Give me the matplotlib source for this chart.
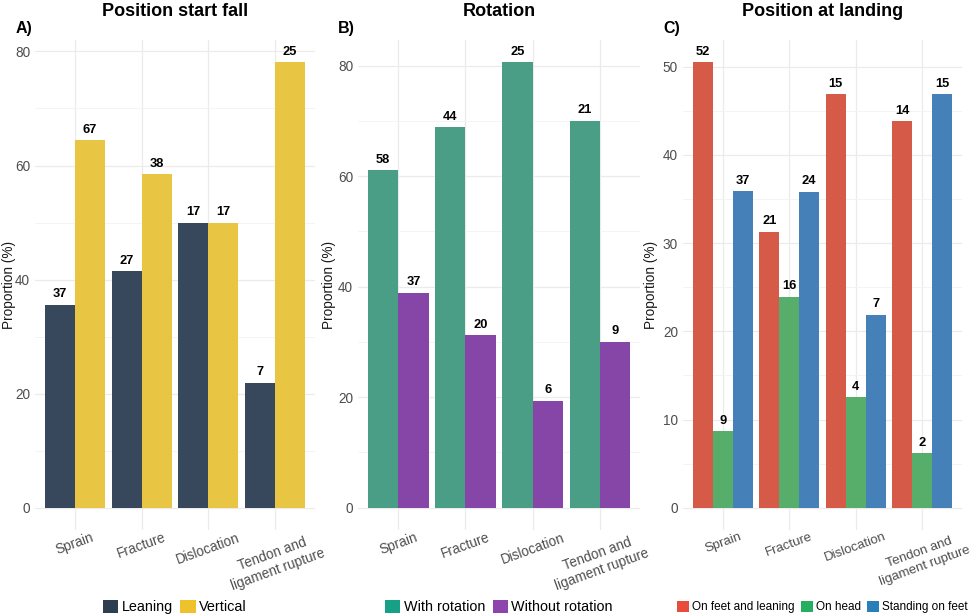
import numpy as np
import matplotlib
matplotlib.use("Agg")
import matplotlib.pyplot as plt
from matplotlib.patches import Patch

plt.rcParams['font.family'] = ['Liberation Sans', 'DejaVu Sans']

categories = ["Sprain", "Fracture", "Dislocation", "Tendon and\nligament rupture"]

# A) position at start of fall
leaning_pct = [35.6, 41.5, 50.0, 21.9]
vertical_pct = [64.4, 58.5, 50.0, 78.1]
leaning_n = [37, 27, 17, 7]
vertical_n = [67, 38, 17, 25]

# B) rotation
with_rot_pct = [61.1, 68.8, 80.6, 70.0]
without_rot_pct = [38.9, 31.2, 19.4, 30.0]
with_rot_n = [58, 44, 25, 21]
without_rot_n = [37, 20, 6, 9]

# C) position at landing
feet_lean_pct = [50.5, 31.3, 46.9, 43.8]
head_pct = [8.7, 23.9, 12.5, 6.2]
standing_pct = [35.9, 35.8, 21.9, 46.9]
feet_lean_n = [52, 21, 15, 14]
head_n = [9, 16, 4, 2]
standing_n = [37, 24, 7, 15]

W, H = 972, 615
fig = plt.figure(figsize=(W / 100, H / 100), dpi=100)


def px_axes(left, right, top=40, bottom=530):
    return fig.add_axes([left / W, 1 - bottom / H, (right - left) / W, (bottom - top) / H])


def panel(ax, series, counts, bar_cols, leg_cols, names, title, tag, major, leg_fs, ylab_x,
          xtick_fs=9.8):
    x = np.arange(1, len(categories) + 1)
    k = len(series)
    w = 0.9 / k
    ymax = max(max(s) for s in series)
    for i, (vals, ns) in enumerate(zip(series, counts)):
        xs = x - 0.45 + w * (i + 0.5)
        ax.bar(xs, vals, width=w, color=bar_cols[i], linewidth=0, zorder=2)
        for xi, v, n in zip(xs, vals, ns):
            ax.annotate(str(n), (xi, v), xytext=(0, 3.2), textcoords='offset points',
                        ha='center', va='bottom', fontsize=9.3, fontweight='bold',
                        color='black', annotation_clip=False)
    ax.set_xlim(0.4, len(categories) + 0.6)
    ax.set_ylim(-0.05 * ymax, 1.05 * ymax)
    ax.set_yticks(major)
    step = major[1] - major[0]
    ax.set_yticks(np.arange(step / 2, 1.05 * ymax, step), minor=True)
    ax.set_xticks(x)
    ax.set_xticklabels(categories, rotation=20, ha='center', multialignment='center',
                       fontsize=xtick_fs)
    ax.grid(True, which='major', color='#EBEBEB', linewidth=0.9, zorder=0)
    ax.grid(True, which='minor', axis='y', color='#F3F3F3', linewidth=0.6, zorder=0)
    ax.set_axisbelow(True)
    for s in ax.spines.values():
        s.set_visible(False)
    ax.tick_params(axis='both', which='both', length=0, labelcolor='#4D4D4D')
    ax.tick_params(axis='y', pad=3.6, labelsize=9.8)
    ax.tick_params(axis='x', pad=0.5)
    ax.set_ylabel("Proportion (%)", fontsize=9.8, color='#1A1A1A', va='center')
    pos = ax.get_position()
    ax.yaxis.set_label_coords((ylab_x / W - pos.x0) / pos.width, 0.5)
    fig.text((pos.x0 + pos.x1) / 2, 1 - 11 / H, title, ha='center', va='center',
             fontsize=13, fontweight='bold')
    handles = [Patch(facecolor=c, edgecolor='none') for c in leg_cols]
    ax.legend(handles, names, loc='center', bbox_to_anchor=(0.5, (530 - 607) / 490),
              ncol=k, frameon=False, fontsize=leg_fs, handlelength=1.05, handleheight=1.05,
              handletextpad=0.25, columnspacing=0.5, borderaxespad=0)
    fig.text(tag[0] / W, 1 - tag[1] / H, tag[2], ha='left', va='center',
             fontsize=11.5, fontweight='bold')


axA = px_axes(35, 315)
panel(axA, [leaning_pct, vertical_pct], [leaning_n, vertical_n],
      ['#37475C', '#E8C542'], ['#2C3E50', '#EEC22C'], ["Leaning", "Vertical"],
      "Position start fall", (16, 28, "A)"), [0, 20, 40, 60, 80], 10.4, 9)

axB = px_axes(358, 640)
panel(axB, [with_rot_pct, without_rot_pct], [with_rot_n, without_rot_n],
      ['#4A9E86', '#8646A8'], ['#16A085', '#8E44AD'], ["With rotation", "Without rotation"],
      "Rotation", (338, 28, "B)"), [0, 20, 40, 60, 80], 10.4, 329)

axC = px_axes(683, 962)
panel(axC, [feet_lean_pct, head_pct, standing_pct], [feet_lean_n, head_n, standing_n],
      ['#D65A48', '#56AE6A', '#4580B8'], ['#E74C3C', '#27AE60', '#2980B9'],
      ["On feet and leaning", "On head", "Standing on feet"],
      "Position at landing", (663, 28, "C)"), [0, 10, 20, 30, 40, 50], 8.5, 651,
      xtick_fs=9.5)

fig.savefig("out.png", dpi=100)
